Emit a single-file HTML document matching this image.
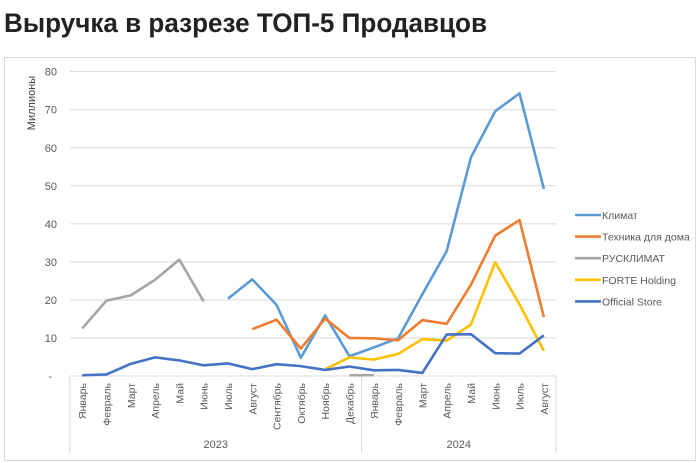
<!DOCTYPE html>
<html><head><meta charset="utf-8"><style>
body{margin:0;background:#fff;width:700px;height:463px;overflow:hidden}
svg{display:block}
text{font-family:"Liberation Sans","DejaVu Sans",sans-serif}
</style></head><body>
<svg id="s" width="700" height="463" xmlns="http://www.w3.org/2000/svg">
<text x="4" y="32" font-size="27" font-weight="bold" fill="#222" textLength="483" lengthAdjust="spacingAndGlyphs">Выручка в разрезе ТОП-5 Продавцов</text>
<rect x="4.5" y="57.5" width="691" height="403" fill="none" stroke="#d9d9d9"/>
<g id="g"></g>
</svg>
<script>
const g=document.getElementById('g');const NS='http://www.w3.org/2000/svg';
function el(t,a,txt){const e=document.createElementNS(NS,t);for(const k in a)e.setAttribute(k,a[k]);if(txt!=null)e.textContent=txt;g.appendChild(e);return e;}
const X0=70,X1=556,Y0=376,S=3.804,W=(X1-X0)/20;
const X=i=>X0+W/2+W*i, Y=v=>Y0-v*S;
for(let v=10;v<=80;v+=10){el('line',{x1:X0,x2:X1,y1:Y(v),y2:Y(v),stroke:'#d9d9d9','stroke-width':1});el('text',{x:57,y:Y(v)+4,'font-size':11,fill:'#595959','text-anchor':'end'},String(v));}
el('text',{x:52,y:Y(0)+4,'font-size':11,fill:'#595959','text-anchor':'end'},'-');
el('line',{x1:X0,x2:X1,y1:Y0,y2:Y0,stroke:'#d9d9d9'});
el('text',{x:0,y:0,'font-size':11,fill:'#404040','text-anchor':'middle',transform:'translate(35,103) rotate(-90)'},'Миллионы');
const m=['Январь','Февраль','Март','Апрель','Май','Июнь','Июль','Август','Сентябрь','Октябрь','Ноябрь','Декабрь','Январь','Февраль','Март','Апрель','Май','Июнь','Июль','Август'];
m.forEach((t,i)=>el('text',{x:0,y:0,'font-size':10.5,fill:'#595959','text-anchor':'end',transform:`translate(${X(i)+4},383) rotate(-90)`},t));
[X0,X0+12*W,X1].forEach(x=>el('line',{x1:x,x2:x,y1:Y0,y2:453,stroke:'#d9d9d9'}));
el('text',{x:X0+6*W,y:448,'font-size':11,fill:'#595959','text-anchor':'middle'},'2023');
el('text',{x:X0+16*W,y:448,'font-size':11,fill:'#595959','text-anchor':'middle'},'2024');
function line(start,vals,c){el('polyline',{points:vals.map((v,i)=>X(start+i)+','+Y(v)).join(' '),fill:'none',stroke:c,'stroke-width':2.6,'stroke-linejoin':'round'});}
line(0,[12.5,19.8,21.2,25.3,30.6,19.6],'#a5a5a5');
line(11,[0.2,0.2],'#a5a5a5');
line(6,[20.3,25.4,18.7,4.8,15.9,5.2,7.5,9.9,21.5,32.8,57.5,69.6,74.3,49.2],'#5b9bd5');
line(7,[12.3,14.8,7.2,15.1,10,9.9,9.4,14.7,13.7,24,36.9,41,15.5],'#ed7d31');
line(10,[1.8,4.9,4.3,5.8,9.7,9.3,13.5,29.9,18.8,6.6],'#ffc000');
line(0,[0.2,0.4,3.2,4.9,4.1,2.8,3.3,1.8,3.1,2.6,1.6,2.5,1.5,1.6,0.8,10.9,11.0,6.0,5.9,10.7],'#4472c4');
const L=[['Климат','#5b9bd5'],['Техника для дома','#ed7d31'],['РУСКЛИМАТ','#a5a5a5'],['FORTE Holding','#ffc000'],['Official Store','#4472c4']];
L.forEach(([t,c],i)=>{const y=215+i*21.6;el('line',{x1:575,x2:601,y1:y,y2:y,stroke:c,'stroke-width':2.6});el('text',{x:602,y:y+4,'font-size':10.5,fill:'#595959'},t);});
</script>
</body></html>
